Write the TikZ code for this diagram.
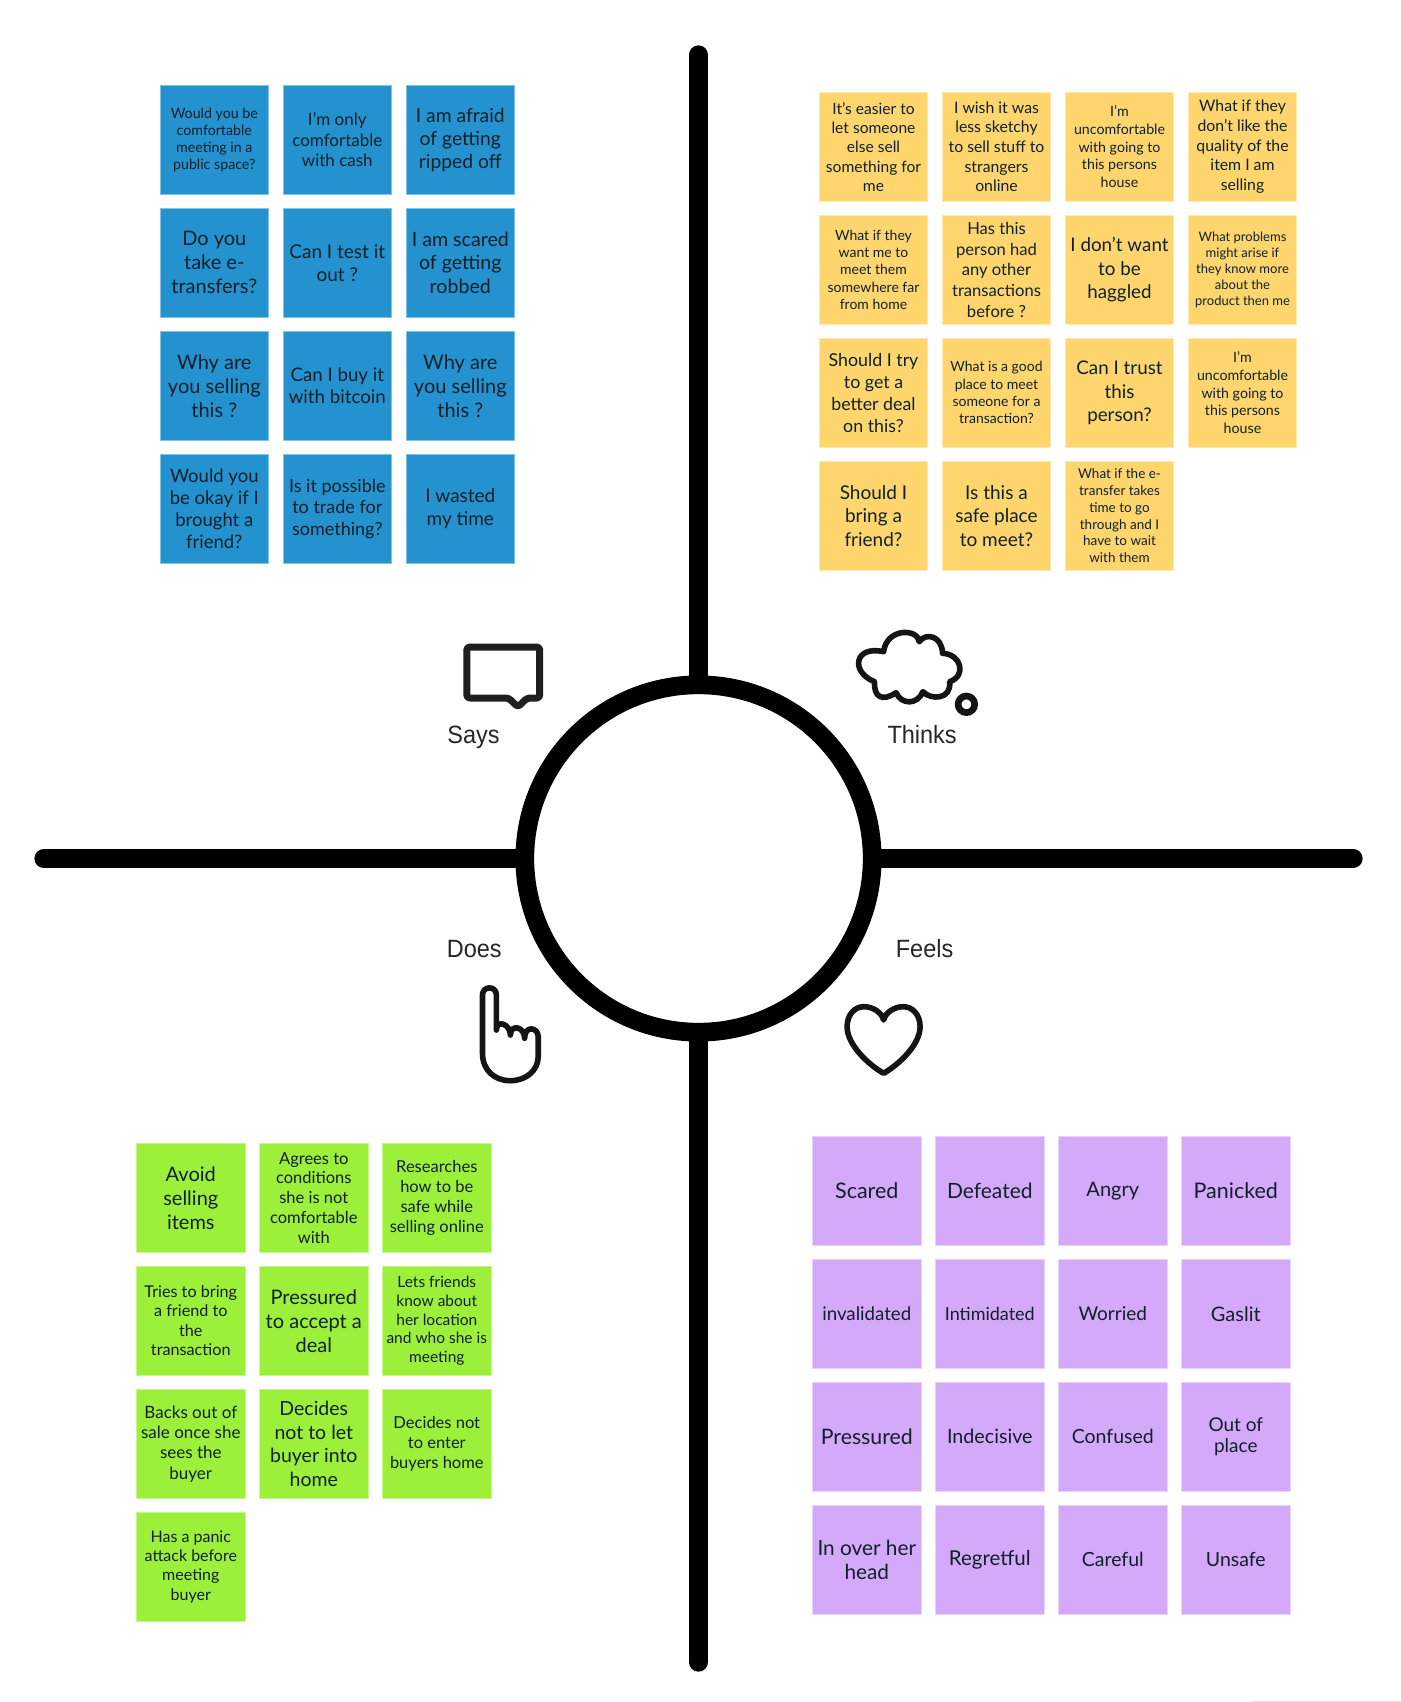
\documentclass[tikz,border=0pt]{standalone}
\usepackage{fontspec}
\setmainfont{Lato}
\newfontfamily\labelfont{Liberation Sans}
\definecolor{saysfill}{HTML}{2492CE}
\definecolor{saysedge}{HTML}{7CC4EA}
\definecolor{thinksfill}{HTML}{FFD66E}
\definecolor{thinksedge}{HTML}{FFE9B0}
\definecolor{doesfill}{HTML}{9CF03A}
\definecolor{doesedge}{HTML}{C8F78F}
\definecolor{feelsfill}{HTML}{D5A9FA}
\definecolor{feelsedge}{HTML}{EAD2FD}
\definecolor{notetext}{HTML}{10202A}
\definecolor{edgestrip}{HTML}{F8CFDD}
\tikzset{
  note/.style={anchor=north west,minimum size=108.6pt,inner sep=0pt,align=center,text=notetext,line width=1pt},
  quadlabel/.style={anchor=base,font=\labelfont\fontsize{25}{30}\selectfont,text=black!85,xscale=.94,transform shape},
  icon/.style={line width=5.6pt,draw=black!92}
}
\begin{document}
\begin{tikzpicture}[x=1pt,y=-1pt,line cap=round,line join=round]
  \useasboundingbox (0,0) rectangle (1400,1702);

  \foreach \c/\r/\fs/\txt in {
    0/0/14.2/{Would you be\\comfortable\\meeting in a\\public space?},
    1/0/17/{I'm only\\comfortable\\with cash},
    2/0/19.3/{I am afraid\\of getting\\ripped off},
    0/1/20/{Do you\\take e-\\transfers?},
    1/1/19/{Can I test it\\out ?},
    2/1/19.6/{I am scared\\of getting\\robbed},
    0/2/20/{Why are\\you selling\\this ?},
    1/2/18.7/{Can I buy it\\with bitcoin},
    2/2/20/{Why are\\you selling\\this ?},
    0/3/18.5/{Would you\\be okay if I\\brought a\\friend?},
    1/3/18/{Is it possible\\to trade for\\something?},
    2/3/19/{I wasted\\my time}}
  {
    \pgfmathsetmacro\ls{\fs*1.2}
    \node[note,fill=saysfill,draw=saysedge,font=\fontsize{\fs}{\ls}\selectfont] (says\c\r) at ({159.5+123*\c},{85+123*\r}) {\txt};
  }

  \foreach \c/\r/\fs/\txt in {
    0/0/15.6/{It's easier to\\let someone\\else sell\\something for\\me},
    1/0/15.8/{I wish it was\\less sketchy\\to sell stuff to\\strangers\\online},
    2/0/14.2/{I'm\\uncomfortable\\with going to\\this persons\\house},
    3/0/15.8/{What if they\\don't like the\\quality of the\\item I am\\selling},
    0/1/14/{What if they\\want me to\\meet them\\somewhere far\\from home},
    1/1/16.6/{Has this\\person had\\any other\\transactions\\before ?},
    2/1/18.8/{I don't want\\to be\\haggled},
    3/1/13/{What problems\\might arise if\\they know more\\about the\\product then me},
    0/2/17.8/{Should I try\\to get a\\better deal\\on this?},
    1/2/14/{What is a good\\place to meet\\someone for a\\transaction?},
    2/2/18.8/{Can I trust\\this\\person?},
    3/2/14.2/{I'm\\uncomfortable\\with going to\\this persons\\house},
    0/3/19/{Should I\\bring a\\friend?},
    1/3/19/{Is this a\\safe place\\to meet?},
    2/3/13.5/{What if the e-\\transfer takes\\time to go\\through and I\\have to wait\\with them}}
  {
    \pgfmathsetmacro\ls{\fs*1.24}
    \node[note,fill=thinksfill,draw=thinksedge,font=\fontsize{\fs}{\ls}\selectfont] (thinks\c\r) at ({818.7+123*\c},{92+123*\r}) {\txt};
  }

  \foreach \c/\r/\fs/\txt in {
    0/0/20/{Avoid\\selling\\items},
    1/0/16.5/{Agrees to\\conditions\\she is not\\comfortable\\with},
    2/0/16.5/{Researches\\how to be\\safe while\\selling online},
    0/1/16.2/{Tries to bring\\a friend to\\the\\transaction},
    1/1/20/{Pressured\\to accept a\\deal},
    2/1/15.5/{Lets friends\\know about\\her location\\and who she is\\meeting},
    0/2/17/{Backs out of\\sale once she\\sees the\\buyer},
    1/2/19.5/{Decides\\not to let\\buyer into\\home},
    2/2/16.5/{Decides not\\to enter\\buyers home},
    0/3/16/{Has a panic\\attack before\\meeting\\buyer}}
  {
    \pgfmathsetmacro\ls{\fs*1.2}
    \node[note,fill=doesfill,draw=doesedge,font=\fontsize{\fs}{\ls}\selectfont] (does\c\r) at ({136+123*\c},{1143+123*\r}) {\txt};
  }

  \foreach \c/\r/\fs/\txt in {
    0/0/21.5/{Scared},
    1/0/21/{Defeated},
    2/0/20/{Angry},
    3/0/21.5/{Panicked},
    0/1/18.7/{invalidated},
    1/1/18/{Intimidated},
    2/1/19/{Worried},
    3/1/20/{Gaslit},
    0/2/21.3/{Pressured},
    1/2/19.7/{Indecisive},
    2/2/19.5/{Confused},
    3/2/19/{Out of\\place},
    0/3/20.8/{In over her\\head},
    1/3/20.5/{Regretful},
    2/3/19.5/{Careful},
    3/3/19.5/{Unsafe}}
  {
    \pgfmathsetmacro\ls{\fs*1.12}
    \node[note,fill=feelsfill,draw=feelsedge,font=\fontsize{\fs}{\ls}\selectfont] (feels\c\r) at ({812+123*\c},{1136+123*\r}) {\txt};
  }

  \coordinate (Hub) at (698.5,858.5);
  \draw[black,line width=19.3pt] (698.5,55) -- (698.5,1662);
  \draw[black,line width=19.3pt] (44,858.5) -- (1353,858.5);
  \draw[black,fill=white,line width=18.7pt] (Hub) circle (173.7pt);

  \draw[black!88,line width=7pt,rounded corners=3pt]
    (508.6,698) -- (466.8,698) -- (466.8,647) -- (539.7,647) -- (539.7,698) -- (527.1,698) -- (517.9,707) -- cycle;

  \draw[icon]
    (883.6,651.7) .. controls (886.4,628) and (917.5,628) .. (919.3,641.7)
    .. controls (926.1,632) and (942.1,636) .. (942.5,653.3)
    .. controls (961.4,654) and (966.8,676) .. (949.6,681.7)
    .. controls (951.8,700) and (930.4,700) .. (922.9,691.7)
    .. controls (917.5,705) and (901.4,705) .. (896.1,692.7)
    .. controls (882.1,702) and (873.6,697) .. (874.6,681.7)
    .. controls (850,672) and (854.3,645) .. cycle;
  \draw[black!92,line width=6.7pt] (966.4,704.3) circle (8.3pt);

  \draw[icon]
    (496.4,1030) -- (496.4,995) .. controls (496.4,985.5) and (482.5,985.5) .. (482.5,995)
    -- (482.5,1053.3) .. controls (482.5,1070) and (494.3,1080.7) .. (510.4,1080.7)
    .. controls (526.4,1080.7) and (538.2,1070) .. (538.2,1056.7)
    -- (538.2,1036.7) .. controls (538.2,1027) and (524.6,1025) .. (524.6,1038.3)
    .. controls (524.3,1026) and (510.4,1024) .. (510.4,1035)
    .. controls (510.4,1024) and (496.4,1019) .. (496.4,1030);

  \draw[icon]
    (883.6,1020) .. controls (881.5,1012) and (872.5,1006.7) .. (863.9,1006.7)
    .. controls (854.3,1006.7) and (847.1,1015) .. (847.1,1026.7)
    .. controls (847.1,1045) and (869,1065) .. (883.6,1073.3)
    .. controls (898.2,1065) and (920.1,1045) .. (920.1,1026.7)
    .. controls (920.1,1015) and (912.9,1006.7) .. (903.3,1006.7)
    .. controls (894.7,1006.7) and (885.7,1012) .. cycle;

  \node[quadlabel] (says) at (473.6,743.3) {Says};
  \node[quadlabel] (thinks) at (922.1,743.3) {Thinks};
  \node[quadlabel] (does) at (474.3,957.3) {Does};
  \node[quadlabel] (feels) at (924.6,957.3) {Feels};

  \draw[edgestrip,line width=1pt,line cap=butt] (1253,1701.5) -- (1400,1701.5);
\end{tikzpicture}
\end{document}
